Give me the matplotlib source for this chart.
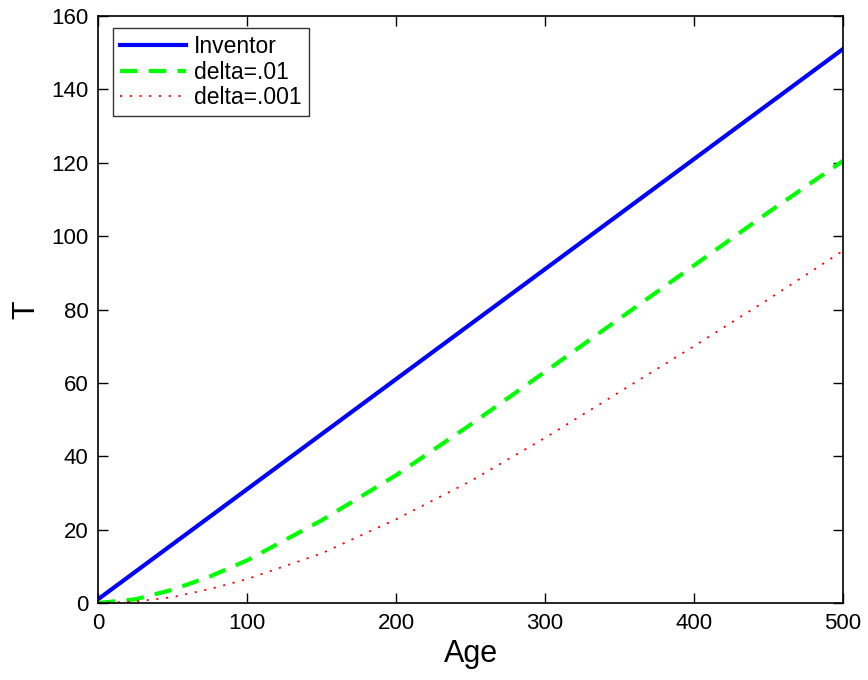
import numpy as np
import matplotlib.pyplot as plt

plt.rcParams['font.family'] = ['Liberation Sans', 'DejaVu Sans']

age = [0, 25, 50, 75, 100, 150, 200, 250, 300, 350, 400, 450, 500]
inventor = [1, 8.5, 16, 23.5, 31, 46, 61, 76, 91, 106, 121, 136, 151]
delta01 = [0, 1.0, 3.6, 7.2, 11.6, 22.5, 34.8, 48.6, 63, 77.5, 92, 106.5, 120.5]
delta001 = [0, 0.4, 1.6, 3.8, 6.5, 13.5, 22.8, 33.2, 45, 57.5, 70, 82.8, 96]

fig = plt.figure(figsize=(8.68, 6.8), dpi=100)
ax = fig.add_axes([98 / 868, 1 - 603 / 680, 745 / 868, 587 / 680])

ax.plot(age, inventor, color='#0000ff', lw=3, label='Inventor')
ax.plot(age, delta01, color='#00ff00', lw=3, ls=(0, (4.2, 2.7)), label='delta=.01')
ax.plot(age, delta001, color='#ff0000', lw=1.3, ls=(0, (1.2, 4.2)), label='delta=.001')

ax.set_xlim(0, 500)
ax.set_ylim(0, 160)
ax.set_xticks(np.arange(0, 501, 100))
ax.set_yticks(np.arange(0, 161, 20))
ax.tick_params(direction='in', top=True, right=True, length=7, width=1,
               labelsize=16, pad=7)
for s in ax.spines.values():
    s.set_linewidth(1.2)

ax.set_xlabel('Age', fontsize=22, labelpad=4)
ax.set_ylabel('T', fontsize=22, labelpad=7)

leg = ax.legend(loc='upper left', bbox_to_anchor=(15 / 745, 1 - 12 / 587),
                borderaxespad=0, fontsize=16.5, frameon=True, fancybox=False,
                edgecolor='black', handlelength=2.9, labelspacing=0.12,
                handletextpad=0.35, borderpad=0.3)
leg.get_frame().set_linewidth(1.0)

fig.savefig('out.png', dpi=100)
